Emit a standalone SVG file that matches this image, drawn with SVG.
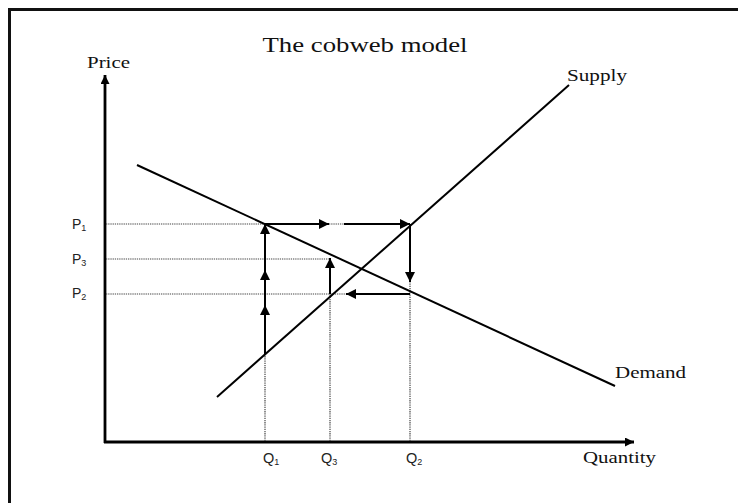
<svg xmlns="http://www.w3.org/2000/svg" width="738" height="503" viewBox="0 0 738 503">
<style>
.serif{font-family:"Liberation Serif","Times New Roman",serif;fill:#111}
.sans{font-family:"Liberation Sans",Arial,sans-serif;fill:#222}
.dot{stroke:#444;stroke-width:1.2;stroke-dasharray:1.3 0.9;fill:none}
.solid{stroke:#000;stroke-width:2;fill:none}
.curve{stroke:#000;stroke-width:2;fill:none}
.axis{stroke:#000;stroke-width:2.8;fill:none}
</style>
<defs>
<marker id="ah" viewBox="0 0 10 10" refX="10" refY="5" markerWidth="10" markerHeight="10" markerUnits="userSpaceOnUse" orient="auto">
<path d="M0,0 L10,5 L0,10 Z" fill="#000"/>
</marker>
<marker id="axh" viewBox="0 0 10 10" refX="10" refY="5" markerWidth="11" markerHeight="9" markerUnits="userSpaceOnUse" orient="auto">
<path d="M0,0 L10,5 L0,10 Z" fill="#000"/>
</marker>
</defs>
<rect width="738" height="503" fill="#fff"/>
<path d="M9.5,503 V9.5 H738" fill="none" stroke="#111" stroke-width="3"/>
<text class="serif" x="365" y="52" font-size="20" text-anchor="middle" textLength="205" lengthAdjust="spacingAndGlyphs">The cobweb model</text>

<g id="axes">
<line class="axis" x1="105" y1="443" x2="105" y2="75" marker-end="url(#axh)"/>
<line class="axis" x1="104" y1="442" x2="634" y2="442" marker-end="url(#axh)"/>
<text class="serif" x="87" y="68" font-size="16" textLength="43" lengthAdjust="spacingAndGlyphs">Price</text>
<text class="serif" x="583" y="463" font-size="17" textLength="73" lengthAdjust="spacingAndGlyphs">Quantity</text>
</g>

<g id="guides">
<line class="dot" x1="106" y1="224" x2="265" y2="224"/>
<line class="dot" x1="106" y1="259" x2="329" y2="259"/>
<line class="dot" x1="106" y1="294" x2="346" y2="294"/>
<line class="dot" x1="329" y1="224" x2="344" y2="224"/>
<line class="dot" x1="265" y1="441" x2="265" y2="354"/>
<line class="dot" x1="330" y1="441" x2="330" y2="294"/>
<line class="dot" x1="410" y1="441" x2="410" y2="282"/>
</g>

<g id="demand">
<line class="curve" x1="137" y1="165" x2="615" y2="386"/>
<text class="serif" x="615" y="378" font-size="17" textLength="71" lengthAdjust="spacingAndGlyphs">Demand</text>
</g>
<g id="supply">
<line class="curve" x1="217" y1="397" x2="569" y2="85"/>
<text class="serif" x="567" y="81" font-size="17" textLength="60" lengthAdjust="spacingAndGlyphs">Supply</text>
</g>

<g id="price-labels">
<text class="sans" x="72" y="229" font-size="14">P<tspan font-size="9" dy="2">1</tspan></text>
<text class="sans" x="72" y="264" font-size="14">P<tspan font-size="9" dy="2">3</tspan></text>
<text class="sans" x="72" y="298" font-size="14">P<tspan font-size="9" dy="2">2</tspan></text>
</g>
<g id="quantity-labels">
<text class="sans" x="263" y="463" font-size="14.5">Q<tspan font-size="9" dy="2">1</tspan></text>
<text class="sans" x="321" y="463" font-size="14.5">Q<tspan font-size="9" dy="2">3</tspan></text>
<text class="sans" x="406" y="463" font-size="14.5">Q<tspan font-size="9" dy="2">2</tspan></text>
</g>

<g id="connectors">
<line class="solid" x1="265" y1="354" x2="265" y2="305" marker-end="url(#ah)"/>
<line class="solid" x1="265" y1="305" x2="265" y2="270" marker-end="url(#ah)"/>
<line class="solid" x1="265" y1="270" x2="265" y2="224" marker-end="url(#ah)"/>
<line class="solid" x1="265" y1="224" x2="329" y2="224" marker-end="url(#ah)"/>
<line class="solid" x1="344" y1="224" x2="410" y2="224" marker-end="url(#ah)"/>
<line class="solid" x1="410" y1="224" x2="410" y2="282" marker-end="url(#ah)"/>
<line class="solid" x1="410" y1="294" x2="346" y2="294" marker-end="url(#ah)"/>
<line class="solid" x1="330" y1="294" x2="330" y2="258" marker-end="url(#ah)"/>
</g>
</svg>
